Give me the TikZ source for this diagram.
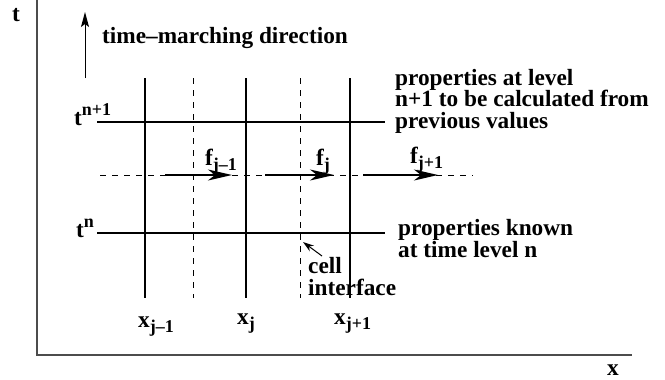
\documentclass[tikz,border=0pt]{standalone}
\usepackage{fontspec}
\setmainfont{Liberation Serif}
\usetikzlibrary{arrows.meta}
\newcommand\mysub[1]{\raisebox{-5pt}{\fontsize{18}{18}\selectfont #1}}
\newcommand\mysup[1]{\raisebox{10pt}{\fontsize{18}{18}\selectfont #1}}
\tikzset{
  lbl/.style={inner sep=0pt, anchor=base west, font=\fontsize{23.3}{21.5}\selectfont\bfseries, align=left},
  axisline/.style={line width=1.3pt, draw=black!70},
  gridline/.style={line width=1.8pt},
  halfline/.style={line width=1pt, dash pattern=on 6pt off 6pt},
  fluxarrow/.style={line width=1.8pt, -{Stealth[length=24pt,width=11pt,inset=7pt]}},
  smallarrow/.style={line width=1pt, -{Stealth[length=11pt,width=7pt]}},
  timearrow/.style={line width=1pt, -{Stealth[length=15pt,width=8pt,inset=3pt]}}
}
\begin{document}
\begin{tikzpicture}[x=1pt,y=-1pt]
\useasboundingbox (0,0) rectangle (665,380);
% axes
\coordinate (o) at (37,355);
\coordinate (ytop) at (37,0);
\coordinate (xend) at (632,355);
\draw[axisline] (ytop) -- (o) -- (xend);
\node[lbl] (tlab) at (12,21) {t};
\node[lbl] (xlab) at (607,375) {x};
% time marching arrow
\coordinate (ta0) at (85,78);
\coordinate (ta1) at (85,12);
\draw[timearrow] (ta0) -- (ta1);
\node[lbl] (tmd) at (102,43) {time–marching direction};
% solid vertical grid lines
\foreach \xx/\nm in {145/a,246/b,350/c}{
  \coordinate (v\nm0) at (\xx,78);
  \coordinate (v\nm1) at (\xx,298);
  \draw[gridline] (v\nm0) -- (v\nm1);
}
% dashed vertical (cell interfaces)
\foreach \xx/\nm in {193/a,300/b}{
  \coordinate (d\nm0) at (\xx,78);
  \coordinate (d\nm1) at (\xx,298);
  \draw[halfline] (d\nm0) -- (d\nm1);
}
% horizontal time levels
\coordinate (h10) at (97,122);
\coordinate (h11) at (385,122);
\draw[gridline] (h10) -- (h11);
\coordinate (h00) at (97,233);
\coordinate (h01) at (385,233);
\draw[gridline] (h00) -- (h01);
% dashed half level
\coordinate (hm0) at (100,175);
\coordinate (hm1) at (473,175);
\draw[halfline] (hm0) -- (hm1);
% flux arrows
\coordinate (fa0) at (165,175);
\coordinate (fa1) at (232,175);
\coordinate (fb0) at (265,175);
\coordinate (fb1) at (334,175);
\coordinate (fc0) at (363,175);
\coordinate (fc1) at (438,175);
\draw[fluxarrow] (fa0) -- (fa1);
\draw[fluxarrow] (fb0) -- (fb1);
\draw[fluxarrow] (fc0) -- (fc1);
\node[lbl] (fl1) at (205,165) {f\mysub{j–1}};
\node[lbl] (fl2) at (316,165) {f\mysub{j}};
\node[lbl] (fl3) at (410,163) {f\mysub{j+1}};
% time level labels
\node[lbl] (tn1) at (74,125) {t\mysup{n+1}};
\node[lbl] (tn) at (76,237) {t\mysup{n}};
% x labels
\node[lbl] (x1) at (138,327) {x\mysub{j–1}};
\node[lbl] (x2) at (237,324) {x\mysub{j}};
\node[lbl] (x3) at (334,324) {x\mysub{j+1}};
% right side texts (base anchor = last line's baseline)
\node[lbl] (p1) at (395,128) {properties at level\\n+1 to be calculated from\\previous values};
\node[lbl] (p2) at (398,257) {properties known\\at time level n};
% cell interface
\node[lbl] (ci) at (308,295) {cell\\interface};
\coordinate (ca0) at (322,256);
\coordinate (ca1) at (303,242);
\draw[smallarrow] (ca0) -- (ca1);
\end{tikzpicture}
\end{document}
